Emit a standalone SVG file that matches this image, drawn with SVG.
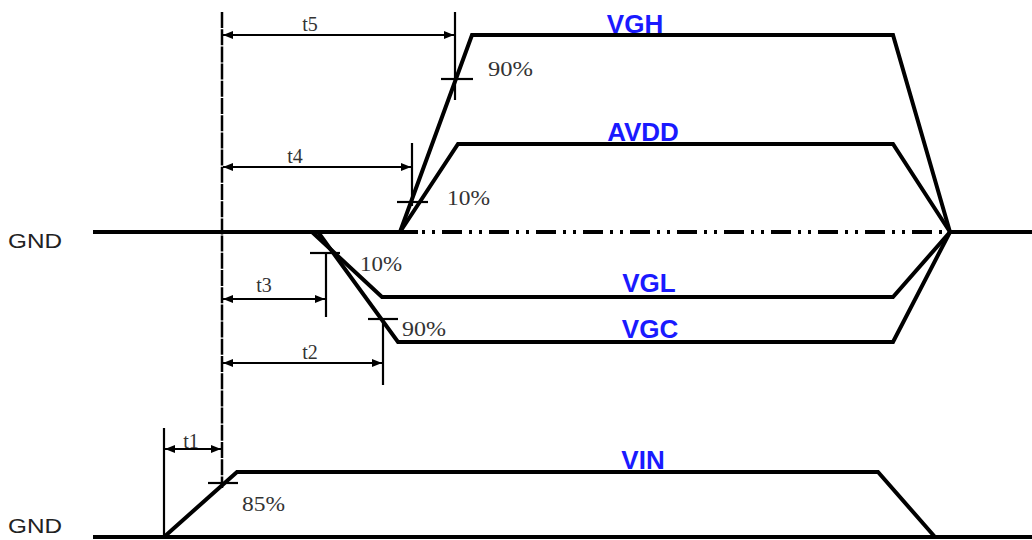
<svg xmlns="http://www.w3.org/2000/svg" width="1032" height="540" viewBox="0 0 1032 540">
<defs>
<style>
.w{fill:none;stroke:#000;stroke-width:4;stroke-linejoin:miter}
.d{fill:none;stroke:#000;stroke-width:2.2}
.dim{fill:none;stroke:#000;stroke-width:2.2;marker-start:url(#ah);marker-end:url(#ah)}
.sig{font-family:"Liberation Sans",Arial,sans-serif;font-weight:bold;font-size:26px;fill:#1a1aff;text-anchor:middle}
.gnd{font-family:"Liberation Sans",Arial,sans-serif;font-size:21px;fill:#222}
.pc{font-family:"Liberation Serif","Times New Roman",serif;font-size:22px;fill:#333}
.t{font-family:"Liberation Serif","Times New Roman",serif;font-size:20px;fill:#333;text-anchor:middle}
</style>
<marker id="ah" viewBox="0 0 10 8" refX="10" refY="4" markerWidth="10" markerHeight="8" markerUnits="userSpaceOnUse" orient="auto-start-reverse">
<path d="M0,0 L10,4 L0,8 z" fill="#000"/>
</marker>
</defs>
<rect width="1032" height="540" fill="#fff"/>

<g id="gnd-top">
<text class="gnd" x="8" y="248" textLength="54" lengthAdjust="spacingAndGlyphs">GND</text>
<line class="w" x1="93" y1="232" x2="418" y2="232"/>
<line class="w" x1="418" y1="232" x2="950" y2="232" stroke-dasharray="20 7 3 7 3 7" stroke-dashoffset="23"/>
<line class="w" x1="948" y1="232" x2="1032" y2="232"/>
</g>

<g id="gnd-bottom">
<text class="gnd" x="8" y="533" textLength="54" lengthAdjust="spacingAndGlyphs">GND</text>
<line class="w" x1="93" y1="537" x2="1032" y2="537"/>
</g>

<g id="vgh">
<polyline class="w" points="400,232 472,35 893,35 950,232"/>
<text class="sig" x="635" y="33">VGH</text>
</g>

<g id="avdd">
<polyline class="w" points="400,232 458,144 893,144 950,232"/>
<text class="sig" x="643" y="141">AVDD</text>
</g>

<g id="vgl">
<polyline class="w" points="312,232 382,297 893,297 950,232"/>
<text class="sig" x="649" y="292">VGL</text>
</g>

<g id="vgc">
<polyline class="w" points="318,232 398,342 893,342 950,232"/>
<text class="sig" x="650" y="338">VGC</text>
</g>

<g id="vin">
<polyline class="w" points="164,537 237,472 878,472 935,537"/>
<text class="sig" x="643" y="469">VIN</text>
</g>

<g id="ref-line">
<line x1="222" y1="12" x2="222" y2="488" stroke="#000" stroke-width="2.5" stroke-dasharray="16 1.2"/>
</g>

<g id="ticks">
<line class="d" x1="441" y1="79" x2="473" y2="79"/>
<text class="pc" x="488" y="76" textLength="45" lengthAdjust="spacingAndGlyphs">90%</text>
<line class="d" x1="397" y1="202" x2="428" y2="202"/>
<text class="pc" x="447" y="205" textLength="43" lengthAdjust="spacingAndGlyphs">10%</text>
<line class="d" x1="310" y1="253" x2="340" y2="253"/>
<text class="pc" x="360" y="271" textLength="42" lengthAdjust="spacingAndGlyphs">10%</text>
<line class="d" x1="368" y1="319" x2="398" y2="319"/>
<text class="pc" x="402" y="336" textLength="44" lengthAdjust="spacingAndGlyphs">90%</text>
<line class="d" x1="208" y1="483" x2="238" y2="483"/>
<text class="pc" x="242" y="511" textLength="43" lengthAdjust="spacingAndGlyphs">85%</text>
</g>

<g id="connectors">
<line class="d" x1="455" y1="12" x2="455" y2="100"/>
<line class="dim" x1="223" y1="35" x2="454" y2="35"/>
<text class="t" x="310" y="31">t5</text>

<line class="d" x1="412" y1="143" x2="412" y2="206"/>
<line class="dim" x1="223" y1="167" x2="411" y2="167"/>
<text class="t" x="295" y="163">t4</text>

<line class="d" x1="326" y1="253" x2="326" y2="317"/>
<line class="dim" x1="223" y1="299" x2="325" y2="299"/>
<text class="t" x="264" y="292">t3</text>

<line class="d" x1="383" y1="319" x2="383" y2="385"/>
<line class="dim" x1="223" y1="363" x2="382" y2="363"/>
<text class="t" x="310" y="359">t2</text>

<line class="d" x1="164" y1="428" x2="164" y2="537"/>
<line class="dim" x1="165" y1="449" x2="221" y2="449"/>
<text class="t" x="191" y="448">t1</text>
</g>
</svg>
